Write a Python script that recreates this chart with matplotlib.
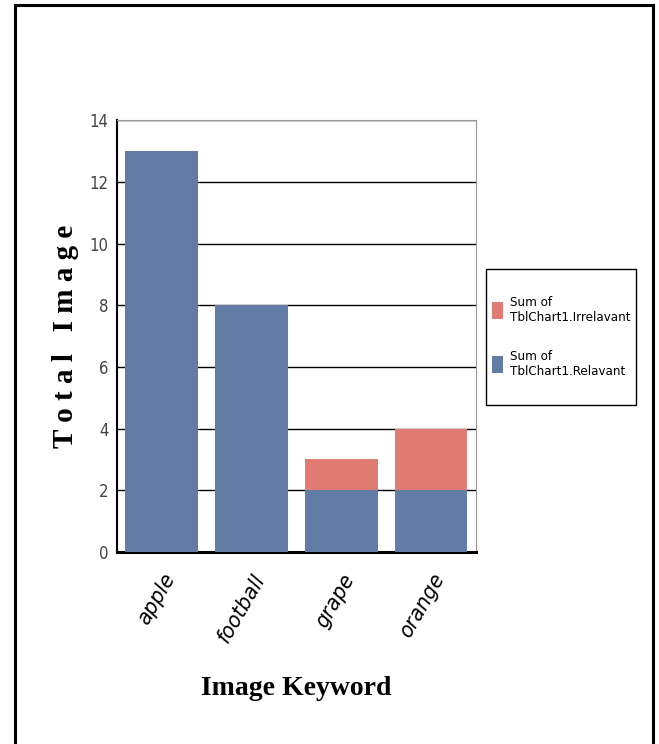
import matplotlib.pyplot as plt
import matplotlib.patches as mpatches
from matplotlib import font_manager

keywords = ["apple", "football", "grape", "orange"]
relavant = [13, 8, 2, 2]
irrelavant = [0, 0, 1, 2]
y_ticks = [0, 2, 4, 6, 8, 10, 12, 14]

blue = "#637ca5"
red = "#e07b74"

# narrow sans for ticks and legend
narrow = font_manager.FontProperties(family="DejaVu Sans", stretch="condensed")

fig = plt.figure(figsize=(6.59, 7.44), dpi=100)
ax = fig.add_axes([0.1775, 0.258, 0.5448, 0.5806])

x = range(len(keywords))
ax.bar(x, relavant, width=0.81, color=blue, zorder=3, label="Sum of\nTblChart1.Relavant")
ax.bar(x, irrelavant, width=0.81, bottom=relavant, color=red, zorder=3,
       label="Sum of\nTblChart1.Irrelavant")

ax.set_xlim(-0.5, len(keywords) - 0.5)
ax.set_ylim(0, 14)
ax.set_yticks(y_ticks)
ax.yaxis.grid(True, color="black", linewidth=1.0, zorder=0)
ax.set_axisbelow(True)
ax.tick_params(axis="y", length=0, pad=6, labelcolor="#444444")
for lbl in ax.get_yticklabels():
    lbl.set_fontproperties(narrow)
    lbl.set_fontsize(12)
ax.set_xticks(list(x))
ax.set_xticklabels(keywords, rotation=60, ha="right", va="top", rotation_mode="anchor")
for lbl in ax.get_xticklabels():
    lbl.set_fontproperties(narrow)
    lbl.set_fontsize(16)
    lbl.set_style("italic")
ax.tick_params(axis="x", length=0, pad=13)

ax.spines["bottom"].set_linewidth(2.2)
ax.spines["left"].set_linewidth(1.5)
for s in ("top", "right"):
    ax.spines[s].set_color("#999999")
    ax.spines[s].set_linewidth(0.8)

ax.set_ylabel("T o t a l   I m a g e", family="Liberation Serif", fontweight="bold",
              fontsize=21, labelpad=8)
ax.set_xlabel("Image Keyword", family="Liberation Serif", fontweight="bold",
              fontsize=20, labelpad=22)

# legend entries without their own frame; the box is drawn separately
handles, labels = ax.get_legend_handles_labels()
leg_font = font_manager.FontProperties(family="DejaVu Sans", stretch="condensed", size=9.5)
fig.legend(handles[::-1], labels[::-1], loc="center",
           bbox_to_anchor=(561 / 659, 1 - 337 / 744), borderaxespad=0,
           frameon=False, prop=leg_font, handlelength=0.85, handleheight=1.6,
           handletextpad=0.5, labelspacing=2.0, borderpad=0)
fig.patches.append(mpatches.Rectangle((486 / 659, 1 - 405 / 744), 150 / 659, 136 / 744,
                                      transform=fig.transFigure, fill=False,
                                      edgecolor="black", linewidth=1.0))

# outer frame around the whole figure
fig.patches.append(mpatches.Rectangle((15 / 659, -0.05), 638 / 659, 1.05 - 5 / 744,
                                      transform=fig.transFigure, fill=False,
                                      edgecolor="black", linewidth=2.2))

fig.savefig("out.png", dpi=100)
